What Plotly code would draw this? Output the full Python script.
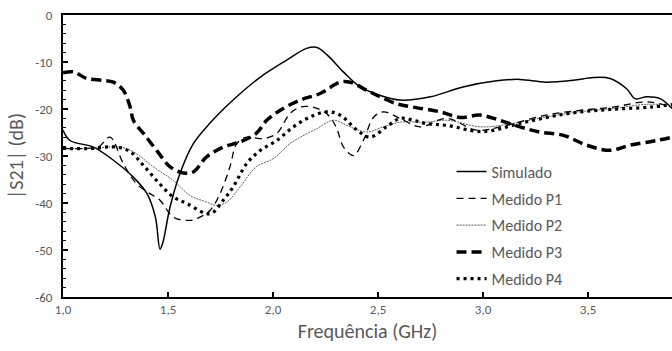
import plotly.graph_objects as go

# ---- data ----
sim_f = [1.0, 1.033, 1.145, 1.24, 1.335, 1.40, 1.44, 1.462, 1.475, 1.51, 1.557, 1.62, 1.70, 1.81, 1.94,
         2.065, 2.16, 2.21, 2.26, 2.335, 2.415, 2.51, 2.605, 2.75, 2.905, 3.065, 3.176, 3.30, 3.43,
         3.526, 3.605, 3.684, 3.724, 3.78, 3.843, 3.9]
sim_db = [-24.5, -26.7, -28.1, -30.9, -34.5, -38.0, -43.0, -49.8, -48.5, -40.8, -33.7, -27.4, -23.0, -18.1, -13.2,
          -9.6, -7.1, -6.9, -8.6, -12.1, -15.3, -17.1, -18.1, -17.4, -15.3, -14.0, -13.7, -14.3, -13.9,
          -13.3, -13.5, -15.7, -17.8, -17.4, -17.8, -19.9]

p1_f = [1.0, 1.10, 1.17, 1.224, 1.287, 1.35, 1.414, 1.462, 1.525, 1.605, 1.652, 1.70, 1.748, 1.795, 1.827,
        1.875, 1.954, 2.018, 2.08, 2.13, 2.19, 2.256, 2.30, 2.336, 2.384, 2.43, 2.48, 2.526, 2.605, 2.70,
        2.827, 2.97, 3.11, 3.30, 3.46, 3.62, 3.78, 3.9]
p1_db = [-28.4, -28.4, -28.0, -26.0, -31.6, -35.9, -38.0, -39.4, -43.0, -43.7, -43.0, -41.6, -38.0, -32.3, -27.4,
         -26.0, -26.3, -25.2, -21.0, -19.6, -19.6, -21.0, -23.8, -28.1, -29.9, -26.7, -21.7, -20.6, -22.0, -23.8,
         -22.0, -24.5, -23.5, -21.3, -20.3, -19.6, -18.5, -19.6]

p2_f = [1.0, 1.13, 1.27, 1.335, 1.43, 1.525, 1.605, 1.684, 1.73, 1.78, 1.843, 1.92, 2.0, 2.08, 2.13,
        2.208, 2.288, 2.367, 2.446, 2.526, 2.605, 2.73, 2.83, 2.99, 3.14, 3.30, 3.46, 3.62, 3.78, 3.9]
p2_db = [-28.4, -28.4, -28.1, -29.1, -32.3, -35.2, -38.4, -39.8, -40.5, -39.8, -36.6, -32.3, -30.6, -27.4, -26.0,
         -24.2, -22.4, -23.8, -24.9, -23.8, -22.8, -22.8, -22.4, -23.8, -23.1, -21.7, -20.6, -19.9, -19.0, -19.2]

p3_f = [1.0, 1.05, 1.113, 1.19, 1.24, 1.287, 1.32, 1.335, 1.383, 1.446, 1.51, 1.573, 1.62, 1.684, 1.763,
        1.843, 1.92, 1.97, 2.033, 2.13, 2.224, 2.32, 2.367, 2.446, 2.51, 2.59, 2.667, 2.795, 2.89, 2.986,
        3.08, 3.176, 3.27, 3.383, 3.494, 3.605, 3.70, 3.827, 3.9]
p3_db = [-12.3, -12.1, -13.5, -13.9, -14.3, -16.0, -19.6, -22.4, -25.2, -28.8, -32.3, -33.6, -33.4, -30.2, -28.1,
         -27.0, -25.2, -22.4, -20.3, -18.1, -16.7, -14.3, -14.3, -16.0, -17.4, -18.9, -19.6, -20.6, -21.8, -21.3,
         -22.4, -23.8, -24.9, -25.6, -27.7, -28.8, -27.7, -26.7, -26.0]

p4_f = [1.0, 1.13, 1.255, 1.32, 1.383, 1.46, 1.525, 1.59, 1.70, 1.763, 1.81, 1.875, 1.94, 2.018, 2.097,
        2.176, 2.256, 2.32, 2.40, 2.462, 2.54, 2.605, 2.67, 2.73, 2.83, 3.0, 3.2, 3.4, 3.6, 3.8, 3.9]
p4_db = [-28.4, -28.4, -28.1, -29.1, -32.0, -35.9, -38.7, -40.1, -42.3, -39.4, -36.6, -31.6, -28.8, -26.7, -23.8,
         -21.7, -20.6, -21.3, -24.5, -26.0, -23.8, -22.0, -22.4, -23.1, -23.5, -24.8, -22.8, -21.0, -20.1, -19.6, -19.0]

x_ticks = [1.0, 1.5, 2.0, 2.5, 3.0, 3.5]
x_tick_labels = ["1,0", "1,5", "2,0", "2,5", "3,0", "3,5"]
y_ticks = [0, -10, -20, -30, -40, -50, -60]
y_tick_labels = ["0", "-10", "-20", "-30", "-40", "-50", "-60"]

FONT = "Carlito, Lato, 'Liberation Sans Narrow', sans-serif"
GREY = "#595959"

fig = go.Figure()
series = [
    ("Simulado", sim_f, sim_db, dict(color="black", width=1.5, dash="solid")),
    ("Medido P1", p1_f, p1_db, dict(color="black", width=1.3, dash="7px,5px")),
    ("Medido P2", p2_f, p2_db, dict(color="#333333", width=0.8, dash="2px,1px")),
    ("Medido P3", p3_f, p3_db, dict(color="black", width=3.5, dash="10px,5px")),
    ("Medido P4", p4_f, p4_db, dict(color="black", width=3.2, dash="3px,4px")),
]
for i, (name, xs, ys, ln) in enumerate(series):
    fig.add_trace(go.Scatter(x=xs, y=ys, mode="lines", name=name, line=ln,
                             line_shape="spline", legendgroup=f"g{i}"))

fig.update_layout(
    width=672, height=351,
    margin=dict(l=63, r=0, t=15, b=54),
    paper_bgcolor="white", plot_bgcolor="white",
    font=dict(family=FONT, color=GREY),
    showlegend=True,
    legend=dict(x=0.638, y=0.505, xanchor="left", yanchor="top",
                font=dict(size=16, color=GREY, family=FONT),
                bgcolor="rgba(0,0,0,0)", tracegroupgap=3, itemwidth=30),
    xaxis=dict(range=[1.0, 3.9], tickvals=x_ticks, ticktext=x_tick_labels,
               showgrid=False, zeroline=False, showline=True, linecolor="black", linewidth=1.5,
               mirror=True, ticks="inside", ticklen=5, tickcolor="black", tickwidth=1.5,
               tickfont=dict(size=13, color=GREY, family=FONT),
               title=dict(text="Frequência (GHz)", font=dict(size=20, color=GREY, family=FONT), standoff=8)),
    yaxis=dict(range=[-60, 0], tickvals=y_ticks, ticktext=y_tick_labels,
               showgrid=False, zeroline=False, showline=True, linecolor="black", linewidth=2,
               ticks="inside", ticklen=5, tickcolor="black", tickwidth=1.5,
               minor=dict(dtick=2, ticks="inside", ticklen=3, tickcolor="black", tickwidth=1.2, showgrid=False),
               tickfont=dict(size=13, color=GREY, family=FONT), ticklabelstandoff=6,
               title=dict(text="|S21| (dB)", font=dict(size=20, color=GREY, family=FONT), standoff=6)),
)

fig.write_html("out.html")
